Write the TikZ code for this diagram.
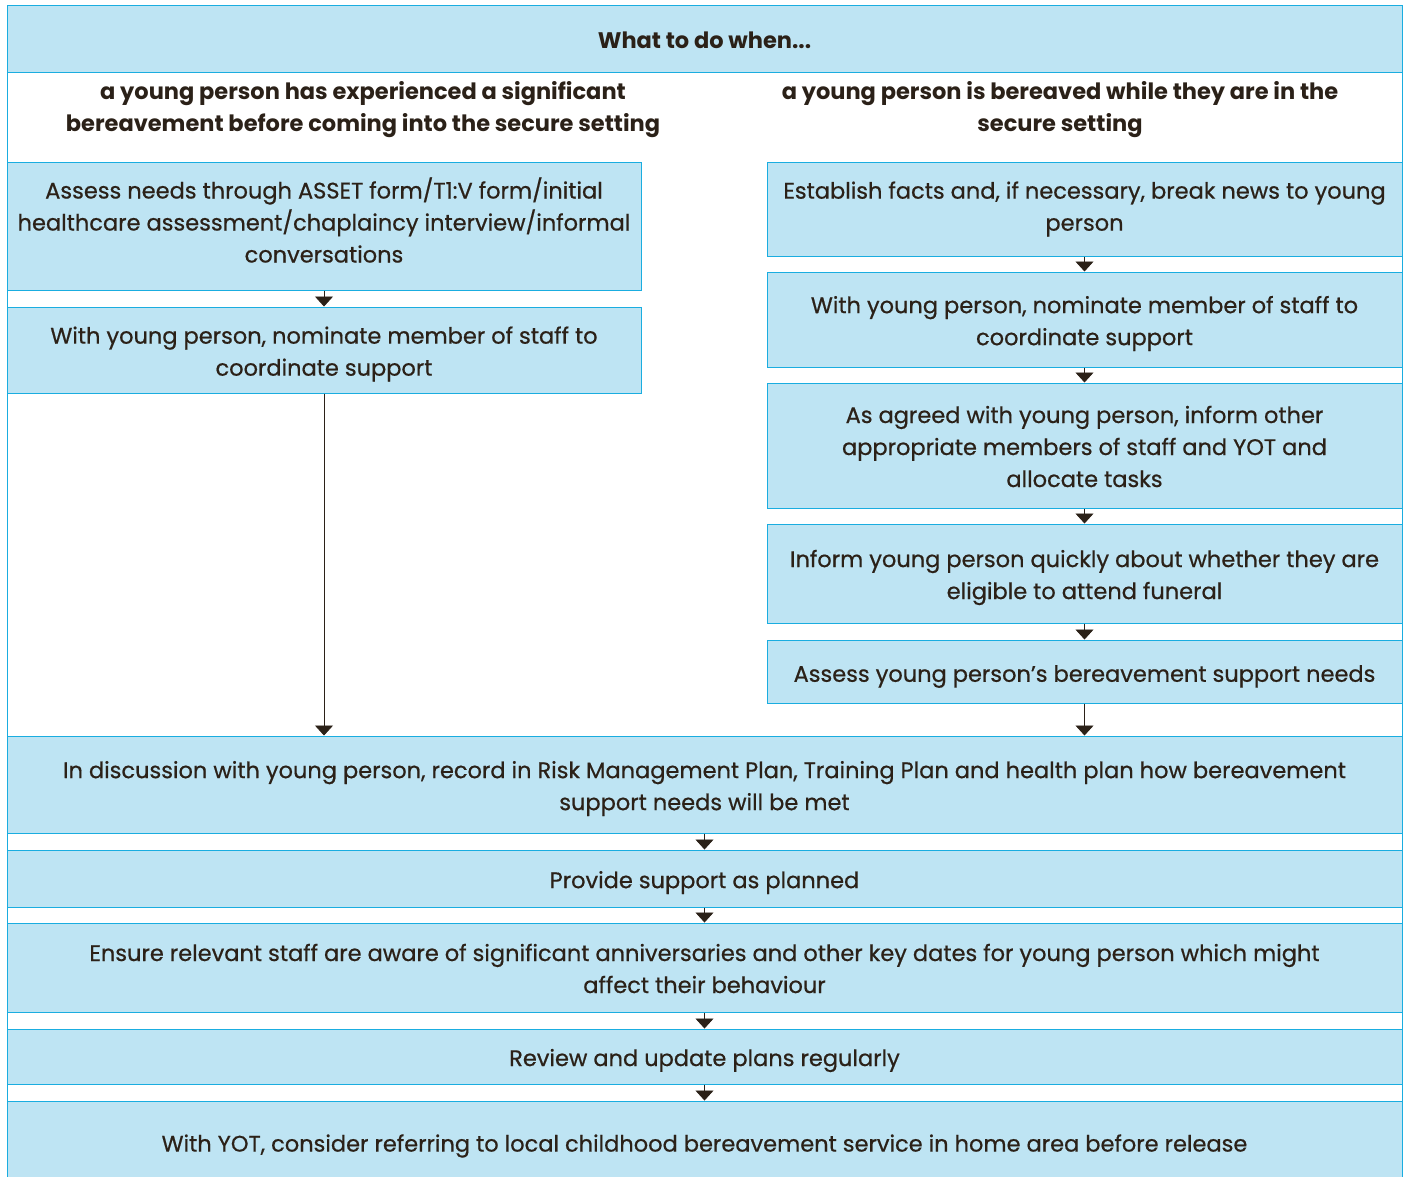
\documentclass[tikz,border=0pt]{standalone}
\usepackage{fontspec}
\setmainfont{Poppins}[UprightFeatures={FakeBold=0.6}]
\usetikzlibrary{arrows.meta}
\definecolor{boxfill}{HTML}{BEE4F3}
\definecolor{boxline}{HTML}{1AADE0}
\definecolor{ink}{HTML}{2B2118}
\tikzset{
  box/.style={draw=boxline, fill=boxfill, line width=1pt, inner sep=0pt},
  txt/.style={align=center, inner sep=0pt, text=ink, font=\fontsize{22.5}{32}\selectfont},
  hdr/.style={align=center, inner sep=0pt, text=ink, font=\fontsize{22.5}{32}\selectfont\bfseries},
  flow/.style={draw=ink, line width=0.8pt, -{Triangle[width=18pt,length=10pt]}}
}
\begin{document}
\begin{tikzpicture}[x=1pt,y=-1pt]
\useasboundingbox (0,0) rectangle (1407,1176);
\fill[white] (0,0) rectangle (1407,1176);
\draw[boxline, line width=1pt] (7,5) rectangle (1402,1190);
% boxes
\node[box, minimum width=1395pt, minimum height=67pt] (title) at (704.5,38.5) {};
\node[box, minimum width=634pt, minimum height=128pt] (L1) at (324,226) {};
\node[box, minimum width=634pt, minimum height=86pt] (L2) at (324,350) {};
\node[box, minimum width=635pt, minimum height=94pt] (R1) at (1084.5,209) {};
\node[box, minimum width=635pt, minimum height=95pt] (R2) at (1084.5,319.5) {};
\node[box, minimum width=635pt, minimum height=125pt] (R3) at (1084.5,445.5) {};
\node[box, minimum width=635pt, minimum height=99pt] (R4) at (1084.5,573.5) {};
\node[box, minimum width=635pt, minimum height=63pt] (R5) at (1084.5,671.5) {};
\node[box, minimum width=1395pt, minimum height=97pt] (B1) at (704.5,784.5) {};
\node[box, minimum width=1395pt, minimum height=57pt] (B2) at (704.5,878.5) {};
\node[box, minimum width=1395pt, minimum height=89pt] (B3) at (704.5,967.5) {};
\node[box, minimum width=1395pt, minimum height=55pt] (B4) at (704.5,1056.5) {};
\node[box, minimum width=1395pt, minimum height=84pt] (B5) at (704.5,1143) {};
% texts
\node[hdr] (tT) at ([yshift=-2pt]title.center) {What to do when...};
\node[hdr] (hdrL) at (363,110) {a young person has experienced a significant\\bereavement before coming into the secure setting};
\node[hdr] (hdrR) at (1060,110) {a young person is bereaved while they are in the\\secure setting};
\node[txt] (tL1) at ([yshift=6pt]L1.center) {Assess needs through ASSET form/T1:V form/initial\\healthcare assessment/chaplaincy interview/informal\\conversations};
\node[txt] (tL2) at ([yshift=-4pt]L2.center) {With young person, nominate member of staff to\\coordinate support};
\node[txt] (tR1) at (R1.center) {Establish facts and, if necessary, break news to young\\person};
\node[txt] (tR2) at ([yshift=-4pt]R2.center) {With young person, nominate member of staff to\\coordinate support};
\node[txt] (tR3) at ([yshift=-1pt]R3.center) {As agreed with young person, inform other\\appropriate members of staff and YOT and\\allocate tasks};
\node[txt] (tR4) at ([yshift=-4pt]R4.center) {Inform young person quickly about whether they are\\eligible to attend funeral};
\node[txt] (tR5) at ([yshift=-5pt]R5.center) {Assess young person’s bereavement support needs};
\node[txt] (tB1) at ([yshift=-4pt]B1.center) {In discussion with young person, record in Risk Management Plan, Training Plan and health plan how bereavement\\support needs will be met};
\node[txt] (tB2) at ([yshift=-4pt]B2.center) {Provide support as planned};
\node[txt] (tB3) at ([yshift=-1pt]B3.center) {Ensure relevant staff are aware of significant anniversaries and other key dates for young person which might\\affect their behaviour};
\node[txt] (tB4) at ([yshift=-4pt]B4.center) {Review and update plans regularly};
\node[txt] (tB5) at ([yshift=-3pt]B5.center) {With YOT, consider referring to local childhood bereavement service in home area before release};
% connectors
\draw[flow] (L1.south) -- (L2.north);
\draw[flow] (L2.south) -- (L2.south |- B1.north);
\draw[flow] (R1.south) -- (R2.north);
\draw[flow] (R2.south) -- (R3.north);
\draw[flow] (R3.south) -- (R4.north);
\draw[flow] (R4.south) -- (R5.north);
\draw[flow] (R5.south) -- (R5.south |- B1.north);
\draw[flow] (B1.south) -- (B2.north);
\draw[flow] (B2.south) -- (B3.north);
\draw[flow] (B3.south) -- (B4.north);
\draw[flow] (B4.south) -- (B5.north);
\end{tikzpicture}
\end{document}
